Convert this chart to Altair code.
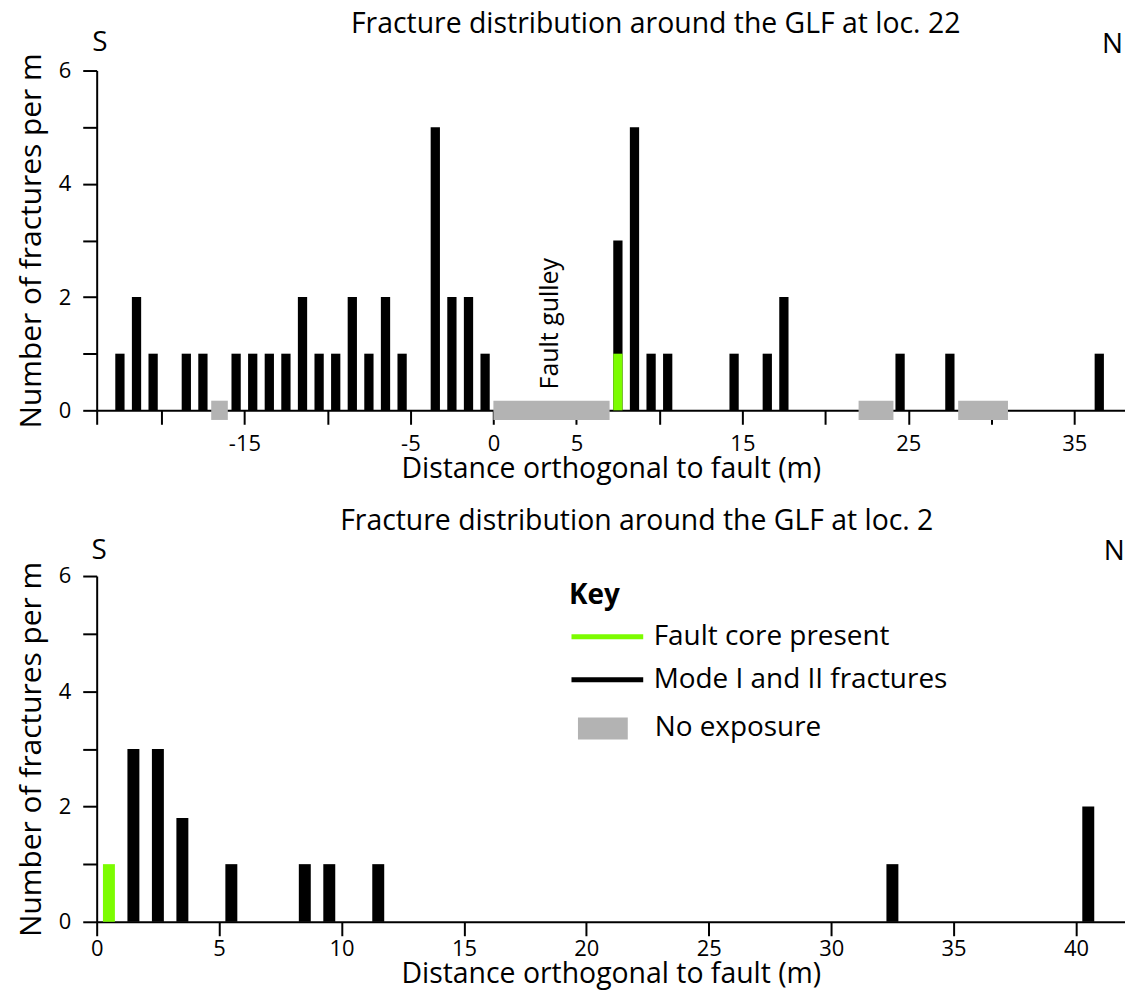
import altair as alt
import pandas as pd

FONT = "Open Sans"
GREEN = "#7CFC00"
BLACK = "#000000"
GRAY = "#B3B3B3"

# ---------------- data: loc. 22 (top panel) ----------------
top_title = "Fracture distribution around the GLF at loc. 22"
top_pos = [-22.5, -21.5, -20.5, -18.5, -17.5, -15.5, -14.5, -13.5, -12.5, -11.5,
           -10.5, -9.5, -8.5, -7.5, -6.5, -5.5, -3.5, -2.5, -1.5, -0.5,
           7.5, 8.5, 9.5, 10.5, 14.5, 16.5, 17.5, 24.5, 27.5, 36.5]
top_count = [1, 2, 1, 1, 1, 1, 1, 1, 1, 2,
             1, 1, 2, 1, 2, 1, 5, 2, 2, 1,
             3, 5, 1, 1, 1, 1, 2, 1, 1, 1]
top_core_pos = [7.5]
top_core_count = [1]
top_gap_start = [-17.0, 0.0, 22.0, 28.0]
top_gap_end = [-16.0, 7.0, 24.1, 31.0]
top_x_ticks = [-23.9, -20, -15, -10, -5, 0, 5, 10, 15, 20, 25, 30, 35]
top_x_labelled = [-15, -5, 0, 5, 15, 25, 35]
top_x_domain = [-23.9, 38.05]
top_note = "Fault gulley"
top_note_x = [3.42]
top_note_y = [1.53]

# ---------------- data: loc. 2 (bottom panel) ----------------
bot_title = "Fracture distribution around the GLF at loc. 2"
bot_pos = [1.5, 2.5, 3.5, 5.5, 8.5, 9.5, 11.5, 32.5, 40.5]
bot_count = [3, 3, 1.8, 1, 1, 1, 1, 1, 2]
bot_core_pos = [0.5]
bot_core_count = [1]
bot_x_ticks = [0, 5, 10, 15, 20, 25, 30, 35, 40]
bot_x_domain = [0, 42]

y_ticks = [0, 1, 2, 3, 4, 5, 6]
y_labelled = [0, 2, 4, 6]
y_domain = [0, 6]

compass_text = ["S", "N"]
top_compass_x = [-23.7, 37.3]
top_compass_y = [6.49, 6.45]
bot_compass_x = [0.1, 41.56]
bot_compass_y = [6.43, 6.42]

KEY_CORE = "Fault core present"
KEY_MODE = "Mode I and II fractures"
KEY_GAP = "No exposure"

X_TITLE = "Distance orthogonal to fault (m)"
Y_TITLE = "Number of fractures per m"


def label_expr(vals):
    arr = "[" + ",".join(str(v) for v in vals) + "]"
    return f"indexof({arr}, datum.value) >= 0 ? toString(datum.value) : ''"


def x_axis(ticks, labelled, pad, tpad):
    return alt.Axis(values=ticks, labelExpr=label_expr(labelled), title=X_TITLE,
                    tickSize=14, labelPadding=pad, titlePadding=tpad,
                    labelFontSize=22, titleFontSize=28.5, labelFlush=False,
                    labelOverlap=False)


y_axis = alt.Axis(values=y_ticks, labelExpr=label_expr(y_labelled), title=Y_TITLE,
                  tickSize=14, labelPadding=12, titlePadding=12,
                  labelFontSize=22, titleFontSize=30)

# ---------------- top panel ----------------
top_df = pd.DataFrame({"pos": top_pos, "base": [0] * len(top_pos), "count": top_count})
top_core_df = pd.DataFrame({"pos": top_core_pos, "base": [0] * len(top_core_pos),
                            "count": top_core_count})
top_gap_df = pd.DataFrame({"pos": top_gap_start, "pos2": top_gap_end})
top_sn_df = pd.DataFrame({"pos": top_compass_x, "count": top_compass_y, "txt": compass_text})
top_note_df = pd.DataFrame({"pos": top_note_x, "count": top_note_y, "txt": [top_note]})

tx = alt.Scale(domain=top_x_domain, nice=False, zero=False)
ys = alt.Scale(domain=y_domain, nice=False)

top_bars = alt.Chart(top_df).mark_rule(strokeWidth=9.3, color=BLACK).encode(
    x=alt.X("pos:Q", scale=tx, axis=x_axis(top_x_ticks, top_x_labelled, 9.5, 0)),
    y=alt.Y("base:Q", scale=ys, axis=y_axis),
    y2="count:Q",
)
top_core = alt.Chart(top_core_df).mark_rule(strokeWidth=9.3, color=GREEN).encode(
    x="pos:Q", y="base:Q", y2="count:Q")
top_gap = alt.Chart(top_gap_df).mark_rect(color=GRAY).encode(
    x="pos:Q", x2="pos2:Q", y=alt.datum(-0.17), y2=alt.datum(0.17))
top_sn = alt.Chart(top_sn_df).mark_text(font=FONT, fontSize=28, color=BLACK).encode(
    x="pos:Q", y="count:Q", text="txt:N")
top_note_l = alt.Chart(top_note_df).mark_text(font=FONT, fontSize=25, color=BLACK, angle=270).encode(
    x="pos:Q", y="count:Q", text="txt:N")

top = alt.layer(top_bars, top_core, top_gap, top_note_l, top_sn).properties(
    width=1032, height=341,
    title=alt.TitleParams(top_title, fontSize=28.5, font=FONT, fontWeight="normal",
                          anchor="middle", dx=45, offset=-9.5, color=BLACK),
)

# ---------------- bottom panel ----------------
bot_df = pd.DataFrame({
    "pos": bot_core_pos + bot_pos,
    "base": [0] * (len(bot_core_pos) + len(bot_pos)),
    "count": bot_core_count + bot_count,
    "kind": [KEY_CORE] * len(bot_core_pos) + [KEY_MODE] * len(bot_pos),
})
bot_sn_df = pd.DataFrame({"pos": bot_compass_x, "count": bot_compass_y, "txt": compass_text})

bx = alt.Scale(domain=bot_x_domain, nice=False, zero=False)

bot_bars = alt.Chart(bot_df).mark_rule(strokeWidth=12).encode(
    x=alt.X("pos:Q", scale=bx, axis=x_axis(bot_x_ticks, bot_x_ticks, 3, 0)),
    y=alt.Y("base:Q", scale=ys, axis=y_axis),
    y2="count:Q",
    color=alt.Color("kind:N",
                    scale=alt.Scale(domain=[KEY_CORE, KEY_MODE], range=[GREEN, BLACK]),
                    legend=alt.Legend(title="Key", orient="none", legendX=474, legendY=6,
                                      symbolType="stroke", symbolStrokeWidth=5,
                                      symbolSize=5184, clipHeight=42, rowPadding=1,
                                      labelOffset=8, titlePadding=6, labelLimit=600,
                                      titleFontSize=28, titleFontWeight="bold",
                                      labelFontSize=28, titleFont=FONT, labelFont=FONT,
                                      titleColor=BLACK, labelColor=BLACK)),
)
bot_gap_key = alt.Chart(alt.Data(values=[])).mark_rect().encode(
    x="pos:Q", y="base:Q",
    fill=alt.Fill("gapkind:N",
                  scale=alt.Scale(domain=[KEY_GAP], range=[GRAY]),
                  legend=alt.Legend(title=None, orient="none", legendX=483, legendY=128,
                                    symbolType="M-1,-0.44H1V0.44H-1Z", symbolSize=2500,
                                    symbolStrokeWidth=0, labelOffset=27, labelLimit=600,
                                    labelFontSize=28, labelFont=FONT, labelColor=BLACK)),
)
bot_sn = alt.Chart(bot_sn_df).mark_text(font=FONT, fontSize=28, color=BLACK).encode(
    x="pos:Q", y="count:Q", text="txt:N")

bottom = alt.layer(bot_bars, bot_gap_key, bot_sn).properties(
    width=1032, height=347,
    title=alt.TitleParams(bot_title, fontSize=28.5, font=FONT, fontWeight="normal",
                          anchor="middle", dx=26, offset=1.7, color=BLACK),
)

chart = alt.vconcat(top, bottom, spacing=23.3).resolve_scale(
    color="independent", fill="independent"
).resolve_legend(
    color="independent", fill="independent"
).properties(
    padding={"left": 8, "top": 0, "right": 0, "bottom": 0}
).configure_view(stroke=None).configure_axis(
    grid=False, domainColor=BLACK, domainWidth=2, tickColor=BLACK, tickWidth=2,
    labelColor=BLACK, titleColor=BLACK, labelFont=FONT, titleFont=FONT,
    titleFontWeight="normal",
)

chart.save("out.html", embed_options={"renderer": "svg", "actions": False})
